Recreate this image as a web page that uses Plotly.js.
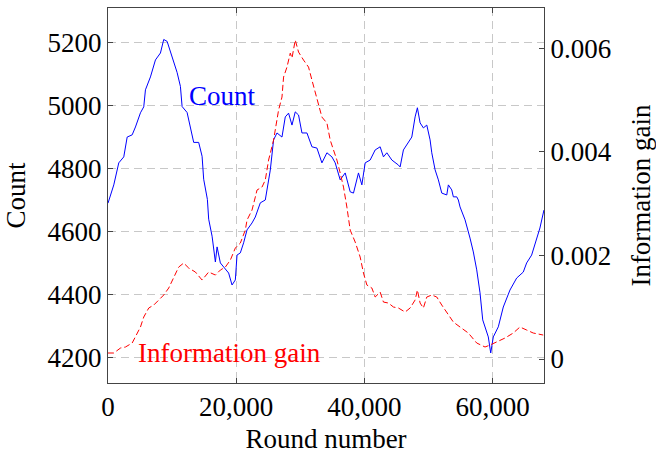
<!DOCTYPE html>
<html>
<head>
<meta charset="utf-8">
<script src="https://cdn.plot.ly/plotly-3.0.1.min.js"></script>
<style>html,body{margin:0;padding:0;background:#fff}#chart{width:656px;height:454px}</style>
</head>
<body>
<div id="chart"></div>
<script>
// Count series (round number, count)
var countRounds = [0,903,1682,2461,2991,3769,4283,5062,5576,5841,6620,7399,8178,8692,9221,10000,10779,11293,11557,12336,12850,13364,14143,14673,14922,15500,15703,16233,16747,17012,17526,18040,18816,19345,19859,20124,20638,21152,21682,22461,22975,23754,24532,25311,25825,26355,27134,27648,28162,28692,29206,29720,30249,31028,31807,32586,33364,34143,34922,35436,36214,36993,37772,38286,39065,39595,40109,40888,41667,42446,42960,43489,44268,45296,45560,46074,46853,47383,47897,48255,48676,49190,49720,50233,50498,51012,51526,52056,52834,53084,53613,53862,54392,54641,54906,55685,56464,56978,57508,58022,58443,58801,59315,59688,60093,60872,61650,62694,63737,64764,65294,66073,66852,67366,67990];
var countValues = [4690,4748,4818,4837,4900,4907,4932,4977,4996,5050,5091,5145,5167,5210,5204,5156,5105,5061,4997,4978,4934,4883,4883,4839,4766,4702,4639,4585,4503,4551,4500,4487,4468,4430,4446,4525,4532,4564,4605,4627,4646,4691,4700,4795,4891,4913,4900,4964,4976,4938,4980,4970,4913,4913,4869,4865,4818,4850,4837,4818,4764,4786,4726,4722,4786,4748,4818,4827,4859,4869,4837,4850,4827,4811,4805,4859,4881,4900,4964,4993,4945,4929,4938,4891,4850,4796,4764,4722,4716,4748,4732,4710,4710,4700,4678,4637,4579,4535,4478,4405,4319,4297,4265,4214,4265,4297,4360,4414,4452,4471,4500,4525,4573,4611,4668];

// Information gain series (round number, gain)
var gainRounds = [0,903,1947,2726,3769,4283,5062,5576,6355,7134,7913,8692,9470,10249,11028,11807,12585,13629,14673,15703,16747,17526,18304,19083,19859,20638,21417,21682,22461,22975,23240,24018,24532,25046,25825,26604,27134,27383,27913,28427,28692,29206,29720,30499,31277,31807,32321,32835,33364,34143,34657,35171,35701,36214,36729,37258,37772,38551,39330,39844,40373,41152,41667,42446,42960,43738,44517,45296,46339,47118,47897,48255,48676,49190,49720,50498,51277,52056,53084,53862,54906,56199,57508,58801,59580,60623,61915,63208,64251,65294,66322,67880];
var gainValues = [0.000116,0.000116,0.000212,0.000232,0.000309,0.000425,0.000618,0.000811,0.000985,0.001042,0.001139,0.001236,0.001371,0.001583,0.001776,0.001853,0.001757,0.00168,0.001525,0.00168,0.001622,0.001718,0.001776,0.001911,0.002143,0.002239,0.00249,0.002683,0.002876,0.003127,0.003263,0.00332,0.003456,0.003842,0.004228,0.004807,0.005058,0.005444,0.005637,0.005907,0.005811,0.006158,0.005927,0.005772,0.005637,0.005386,0.005154,0.004942,0.004672,0.004556,0.004228,0.004035,0.003842,0.003591,0.00332,0.002934,0.00249,0.002259,0.001969,0.00166,0.001429,0.001371,0.001197,0.001293,0.0011,0.001081,0.001004,0.000985,0.000907,0.000985,0.001139,0.001332,0.001081,0.000985,0.001197,0.001236,0.001197,0.001042,0.000849,0.000714,0.000618,0.000502,0.000309,0.000232,0.00027,0.000328,0.000405,0.000502,0.000618,0.00056,0.000502,0.000463];

var countTicks = [4200,4400,4600,4800,5000,5200];
var gainTicks = [0,0.002,0.004,0.006];
var gainTickLabels = ['0','0.002','0.004','0.006'];
var roundTicks = [0,20000,40000,60000];
var roundTickLabels = ['0','20,000','40,000','60,000'];

var FONT = 'Liberation Serif, Times New Roman, serif';
var FS = 27;
var axisColor = '#444';

var traces = [
  {x: countRounds, y: countValues, type: 'scatter', mode: 'lines', name: 'Count',
   line: {color: '#0000ff', width: 1}, yaxis: 'y'},
  {x: gainRounds, y: gainValues, type: 'scatter', mode: 'lines', name: 'Information gain',
   line: {color: '#ff0000', width: 1, dash: '6px,3px'}, yaxis: 'y2'}
];

var layout = {
  width: 656, height: 454,
  margin: {l: 108, r: 112, t: 8, b: 71},
  paper_bgcolor: '#fff', plot_bgcolor: '#fff',
  showlegend: false,
  font: {family: FONT, size: FS, color: '#000'},
  xaxis: {
    range: [0, 68000],
    tickvals: roundTicks, ticktext: roundTickLabels,
    ticks: 'inside', ticklen: 5, tickcolor: axisColor,
    showline: true, linecolor: axisColor, linewidth: 1, mirror: 'ticks',
    showgrid: true, gridcolor: '#c8c8c8', griddash: '8px,5px', gridwidth: 1,
    zeroline: false,
    tickfont: {family: FONT, size: FS},
    title: {text: 'Round number', font: {family: FONT, size: FS}, standoff: 8}
  },
  yaxis: {
    range: [4118.6, 5310],
    tickvals: countTicks,
    ticks: 'inside', ticklen: 5, tickcolor: axisColor,
    showline: true, linecolor: axisColor, linewidth: 1,
    showgrid: true, gridcolor: '#c8c8c8', griddash: '8px,5px', gridwidth: 1,
    zeroline: false,
    tickfont: {family: FONT, size: FS},
    title: {text: 'Count', font: {family: FONT, size: FS}, standoff: 14}
  },
  yaxis2: {
    range: [-0.000463, 0.006778],
    overlaying: 'y', side: 'right',
    tickvals: gainTicks, ticktext: gainTickLabels,
    ticks: 'inside', ticklen: 5, tickcolor: axisColor,
    showline: true, linecolor: axisColor, linewidth: 1,
    showgrid: false, zeroline: false,
    tickfont: {family: FONT, size: FS},
    title: {text: 'Information gain', font: {family: FONT, size: FS}, standoff: 20}
  },
  annotations: [
    {text: 'Count', xref: 'x', yref: 'y', x: 12300, y: 5030, xanchor: 'left', yanchor: 'middle',
     showarrow: false, font: {family: FONT, size: FS, color: '#0000ff'}},
    {text: 'Information gain', xref: 'x', yref: 'y', x: 4300, y: 4214, xanchor: 'left', yanchor: 'middle',
     showarrow: false, font: {family: FONT, size: FS, color: '#ff0000'}}
  ]
};

Plotly.newPlot('chart', traces, layout, {staticPlot: true, displayModeBar: false});
</script>
</body>
</html>
